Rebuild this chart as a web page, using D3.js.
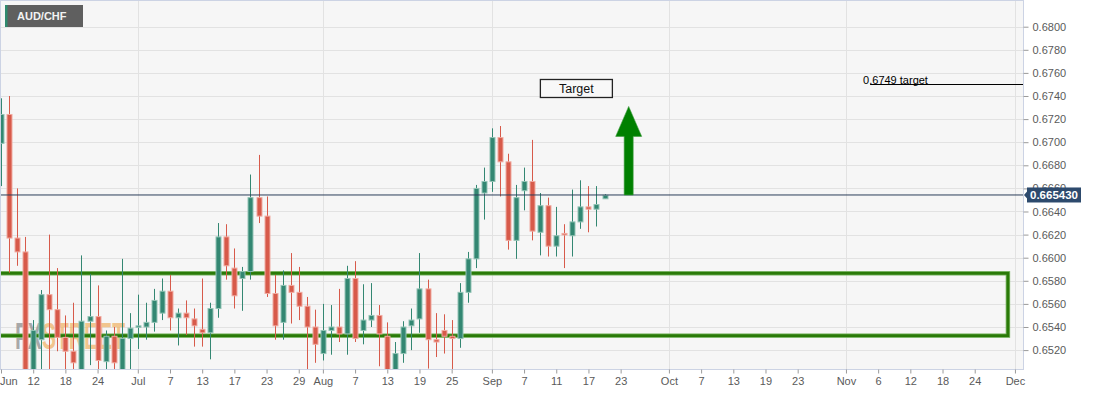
<!DOCTYPE html>
<html>
<head>
<meta charset="utf-8">
<script src="https://cdn.jsdelivr.net/npm/d3@7"></script>
<style>
  body { margin: 0; background: #fff; }
  svg { display: block; font-family: "Liberation Sans", Arial, sans-serif; }
</style>
</head>
<body>
<svg width="1094" height="395"></svg>
<script>
// daily AUD/CHF candles
let dates = [
  '2020-06-08', '2020-06-09', '2020-06-10', '2020-06-11', '2020-06-12',
  '2020-06-15', '2020-06-16', '2020-06-17', '2020-06-18', '2020-06-19',
  '2020-06-22', '2020-06-23', '2020-06-24', '2020-06-25', '2020-06-26',
  '2020-06-29', '2020-06-30', '2020-07-01', '2020-07-02', '2020-07-03',
  '2020-07-06', '2020-07-07', '2020-07-08', '2020-07-09', '2020-07-10',
  '2020-07-13', '2020-07-14', '2020-07-15', '2020-07-16', '2020-07-17',
  '2020-07-20', '2020-07-21', '2020-07-22', '2020-07-23', '2020-07-24',
  '2020-07-27', '2020-07-28', '2020-07-29', '2020-07-30', '2020-07-31',
  '2020-08-03', '2020-08-04', '2020-08-05', '2020-08-06', '2020-08-07',
  '2020-08-10', '2020-08-11', '2020-08-12', '2020-08-13', '2020-08-14',
  '2020-08-17', '2020-08-18', '2020-08-19', '2020-08-20', '2020-08-21',
  '2020-08-24', '2020-08-25', '2020-08-26', '2020-08-27', '2020-08-28',
  '2020-08-31', '2020-09-01', '2020-09-02', '2020-09-03', '2020-09-04',
  '2020-09-07', '2020-09-08', '2020-09-09', '2020-09-10', '2020-09-11',
  '2020-09-14', '2020-09-15', '2020-09-16', '2020-09-17', '2020-09-18',
  '2020-09-21',
];
let open = [
  0.6699, 0.6724, 0.6617, 0.6605, 0.6488,
  0.6529, 0.6568, 0.6555, 0.6531, 0.6519,
  0.6498, 0.6545, 0.6549, 0.6510, 0.6532,
  0.6495, 0.6530, 0.6540, 0.6540, 0.6544,
  0.6552, 0.6571, 0.6548, 0.6552, 0.6547,
  0.6538, 0.6535, 0.6556, 0.6618, 0.6591,
  0.6582, 0.6588, 0.6652, 0.6636, 0.6569,
  0.6544, 0.6576, 0.6570, 0.6558, 0.6540,
  0.6517, 0.6537, 0.6540, 0.6534, 0.6582,
  0.6537, 0.6546, 0.6550, 0.6532, 0.6499,
  0.6517, 0.6541, 0.6547, 0.6573, 0.6529,
  0.6537, 0.6532, 0.6530, 0.6570, 0.6599,
  0.6656, 0.6666, 0.6704, 0.6683, 0.6615,
  0.6658, 0.6666, 0.6622, 0.6645, 0.6610,
  0.6621, 0.6619, 0.6631, 0.6644, 0.6642,
  0.6651,
];
let high = [
  0.6738, 0.6740, 0.6660, 0.6618, 0.6546,
  0.6572, 0.6620, 0.6591, 0.6550, 0.6561,
  0.6602, 0.6586, 0.6576, 0.6537, 0.6540,
  0.6599, 0.6552, 0.6568, 0.6561, 0.6573,
  0.6582, 0.6585, 0.6556, 0.6563, 0.6556,
  0.6582, 0.6561, 0.6630, 0.6629, 0.6608,
  0.6592, 0.6672, 0.6689, 0.6653, 0.6585,
  0.6589, 0.6604, 0.6592, 0.6566, 0.6555,
  0.6560, 0.6559, 0.6573, 0.6593, 0.6597,
  0.6577, 0.6578, 0.6559, 0.6544, 0.6527,
  0.6545, 0.6556, 0.6604, 0.6581, 0.6552,
  0.6551, 0.6546, 0.6578, 0.6605, 0.6663,
  0.6678, 0.6712, 0.6714, 0.6690, 0.6663,
  0.6678, 0.6702, 0.6656, 0.6652, 0.6644,
  0.6629, 0.6659, 0.6667, 0.6662, 0.6662,
  0.6655,
];
let low = [
  0.6662, 0.6587, 0.6593, 0.6470, 0.6475,
  0.6495, 0.6500, 0.6519, 0.6498, 0.6495,
  0.6490, 0.6507, 0.6498, 0.6497, 0.6498,
  0.6490, 0.6495, 0.6521, 0.6529, 0.6536,
  0.6546, 0.6537, 0.6524, 0.6533, 0.6523,
  0.6523, 0.6512, 0.6548, 0.6581, 0.6556,
  0.6554, 0.6581, 0.6630, 0.6566, 0.6529,
  0.6529, 0.6543, 0.6546, 0.6500, 0.6509,
  0.6511, 0.6516, 0.6527, 0.6516, 0.6527,
  0.6525, 0.6540, 0.6506, 0.6492, 0.6495,
  0.6509, 0.6520, 0.6535, 0.6504, 0.6514,
  0.6517, 0.6500, 0.6522, 0.6561, 0.6591,
  0.6633, 0.6657, 0.6653, 0.6607, 0.6599,
  0.6641, 0.6615, 0.6602, 0.6601, 0.6601,
  0.6591, 0.6601, 0.6625, 0.6622, 0.6627,
  0.6651,
];
let close = [
  0.6724, 0.6617, 0.6605, 0.6488, 0.6537,
  0.6568, 0.6555, 0.6531, 0.6519, 0.6509,
  0.6545, 0.6549, 0.6511, 0.6532, 0.6509,
  0.6530, 0.6539, 0.6541, 0.6544, 0.6563,
  0.6571, 0.6548, 0.6552, 0.6548, 0.6541,
  0.6535, 0.6556, 0.6618, 0.6593, 0.6567,
  0.6588, 0.6652, 0.6636, 0.6569, 0.6541,
  0.6576, 0.6570, 0.6558, 0.6540, 0.6525,
  0.6537, 0.6540, 0.6534, 0.6582, 0.6530,
  0.6546, 0.6550, 0.6534, 0.6499, 0.6517,
  0.6540, 0.6546, 0.6573, 0.6529, 0.6527,
  0.6532, 0.6530, 0.6570, 0.6599, 0.6660,
  0.6666, 0.6704, 0.6683, 0.6615, 0.6652,
  0.6666, 0.6623, 0.6645, 0.6610, 0.6619,
  0.6620, 0.6631, 0.6644, 0.6642, 0.6646,
  0.6654,
];

let tickDates = [
  '2020-06-08', '2020-06-12', '2020-06-18', '2020-06-24', '2020-07-01',
  '2020-07-07', '2020-07-13', '2020-07-17', '2020-07-23', '2020-07-29',
  '2020-08-03', '2020-08-07', '2020-08-13', '2020-08-19', '2020-08-25',
  '2020-09-01', '2020-09-07', '2020-09-11', '2020-09-17', '2020-09-23',
  '2020-10-01', '2020-10-07', '2020-10-13', '2020-10-19', '2020-10-23',
  '2020-11-02', '2020-11-06', '2020-11-12', '2020-11-18', '2020-11-24',
  '2020-12-01',
];
let tickLabels = [
  'Jun', '12', '18', '24', 'Jul', '7', '13', '17', '23', '29',
  'Aug', '7', '13', '19', '25', 'Sep', '7', '11', '17', '23',
  'Oct', '7', '13', '19', '23', 'Nov', '6', '12', '18', '24', 'Dec',
];
let monthLabels = ['Jun', 'Jul', 'Aug', 'Sep', 'Oct', 'Nov', 'Dec'];

let priceTicks = [
  0.652, 0.654, 0.656, 0.658, 0.660, 0.662, 0.664, 0.666,
  0.668, 0.670, 0.672, 0.674, 0.676, 0.678, 0.680,
];

let lastPrice = 0.66543;
let lastPriceLabel = '0.665430';
let zoneTop = 0.65865;
let zoneBottom = 0.65325;
let zoneEnd = '2020-11-30';
let targetLevel = 0.675;
let targetLabel = '0.6749 target';
let targetStart = '2020-11-05';
let arrowDate = '2020-09-24';
let arrowTop = 0.6731;
let targetBoxDate = '2020-09-15';
let targetBoxLevel = 0.67465;

let svgWidth = 1094;
let svgHeight = 395;
let plotLeft = 0.5;
let plotRight = 1023.5;
let plotTop = 0.5;
let plotBottom = 369.5;

let green = '#338772';
let greenEdge = '#93c3b5';
let red = '#d75a4a';
let redEdge = '#f0aaa0';

let fmt = d3.timeFormat('%Y-%m-%d');
let tradingDays = d3.timeDay
  .range(new Date(2020, 5, 8), new Date(2020, 11, 5))
  .filter((d) => d.getDay() !== 0 && d.getDay() !== 6)
  .map(fmt);
let dayIndex = (s) => tradingDays.indexOf(s);

let xScale = d3.scaleLinear().domain([0, 127]).range([1, 1023]);
let yScale = d3.scaleLinear().domain([0.65032, 0.682225]).range([plotBottom, 1]);

let svg = d3.select('svg');

svg.append('clipPath')
  .attr('id', 'clip')
  .append('rect')
  .attr('x', plotLeft)
  .attr('y', plotTop)
  .attr('width', plotRight - plotLeft)
  .attr('height', plotBottom - plotTop);

svg.append('rect')
  .attr('x', plotLeft)
  .attr('y', plotTop)
  .attr('width', plotRight - plotLeft)
  .attr('height', plotBottom - plotTop)
  .attr('fill', '#f6f6f6');

// grid
svg.append('g')
  .selectAll('line')
  .data(priceTicks)
  .enter()
  .append('line')
  .attr('x1', plotLeft)
  .attr('x2', plotRight)
  .attr('y1', (d) => Math.round(yScale(d)) + 0.5)
  .attr('y2', (d) => Math.round(yScale(d)) + 0.5)
  .attr('stroke', '#e2e2e2');

let monthTicks = tickDates.filter((d, i) => monthLabels.includes(tickLabels[i]) && i > 0);
svg.append('g')
  .selectAll('line')
  .data(monthTicks)
  .enter()
  .append('line')
  .attr('x1', (d) => Math.round(xScale(dayIndex(d))) + 0.5)
  .attr('x2', (d) => Math.round(xScale(dayIndex(d))) + 0.5)
  .attr('y1', plotTop)
  .attr('y2', plotBottom)
  .attr('stroke', '#e2e2e2');

let canvas = svg.append('g').attr('clip-path', 'url(#clip)');

// watermark
let mark = canvas.append('text')
  .attr('x', 15)
  .attr('y', 349)
  .attr('font-size', 36)
  .attr('font-weight', 'bold')
  .attr('textLength', 110)
  .attr('lengthAdjust', 'spacingAndGlyphs');
mark.append('tspan').text('FX').attr('fill', '#8e8e8e').attr('fill-opacity', 0.75);
mark.append('tspan').text('STREET').attr('fill', '#f0b060').attr('fill-opacity', 0.7);

// support zone
canvas.append('rect')
  .attr('x', plotLeft - 5)
  .attr('y', yScale(zoneTop))
  .attr('width', xScale(dayIndex(zoneEnd)) + 1 - plotLeft + 5)
  .attr('height', yScale(zoneBottom) - yScale(zoneTop))
  .attr('fill', 'none')
  .attr('stroke', '#7fb86a')
  .attr('stroke-width', 4.5);
canvas.append('rect')
  .attr('x', plotLeft - 5)
  .attr('y', yScale(zoneTop))
  .attr('width', xScale(dayIndex(zoneEnd)) + 1 - plotLeft + 5)
  .attr('height', yScale(zoneBottom) - yScale(zoneTop))
  .attr('fill', 'none')
  .attr('stroke', '#2a7a08')
  .attr('stroke-width', 2.8);

// candles
let candles = dates.map((d, i) => ({ date: d, o: open[i], h: high[i], l: low[i], c: close[i] }));

let bars = canvas.selectAll('g.candle')
  .data(candles)
  .enter()
  .append('g')
  .attr('class', 'candle');

bars.append('line')
  .attr('x1', (d) => Math.round(xScale(dayIndex(d.date))) + 0.5)
  .attr('x2', (d) => Math.round(xScale(dayIndex(d.date))) + 0.5)
  .attr('y1', (d) => yScale(d.h))
  .attr('y2', (d) => yScale(d.l))
  .attr('stroke', (d) => (d.c >= d.o ? green : red));

bars.append('rect')
  .attr('x', (d) => Math.round(xScale(dayIndex(d.date))) - 2)
  .attr('y', (d) => yScale(Math.max(d.o, d.c)))
  .attr('width', 5)
  .attr('height', (d) => Math.max(1.5, yScale(Math.min(d.o, d.c)) - yScale(Math.max(d.o, d.c))))
  .attr('fill', (d) => (d.c >= d.o ? green : red))
  .attr('stroke', (d) => (d.c >= d.o ? greenEdge : redEdge))
  .attr('stroke-width', 1);

// last price line
canvas.append('line')
  .attr('x1', plotLeft)
  .attr('x2', plotRight)
  .attr('y1', yScale(lastPrice))
  .attr('y2', yScale(lastPrice))
  .attr('stroke', '#2b3e5a');

// target line
let targetY = Math.round(yScale(targetLevel)) + 0.5;
let targetX = xScale(dayIndex(targetStart));
canvas.append('line')
  .attr('x1', targetX)
  .attr('x2', plotRight)
  .attr('y1', targetY)
  .attr('y2', targetY)
  .attr('stroke', '#000');
canvas.append('text')
  .attr('x', targetX - 7)
  .attr('y', targetY - 0.5)
  .attr('font-size', 11)
  .attr('fill', '#000')
  .text(targetLabel);

// arrow
let ax = xScale(dayIndex(arrowDate));
let ay0 = yScale(lastPrice);
let ay1 = yScale(arrowTop);
let headLen = 30;
canvas.append('path')
  .attr('d', `M${ax - 4.5},${ay0} L${ax - 4.5},${ay1 + headLen} L${ax - 13},${ay1 + headLen} L${ax},${ay1}
              L${ax + 13},${ay1 + headLen} L${ax + 4.5},${ay1 + headLen} L${ax + 4.5},${ay0} Z`)
  .attr('fill', '#008000')
  .attr('stroke', '#3a9a3a')
  .attr('stroke-width', 0.6);

// target box
let bx = xScale(dayIndex(targetBoxDate) + 0.5);
let by = yScale(targetBoxLevel);
canvas.append('rect')
  .attr('x', bx - 36)
  .attr('y', by - 9)
  .attr('width', 72)
  .attr('height', 18)
  .attr('fill', '#f8f8f8')
  .attr('stroke', '#222')
  .attr('stroke-width', 1.3);
canvas.append('text')
  .attr('x', bx)
  .attr('y', by + 4.5)
  .attr('text-anchor', 'middle')
  .attr('font-size', 12.5)
  .attr('fill', '#111')
  .text('Target');

// plot border
svg.append('rect')
  .attr('x', plotLeft)
  .attr('y', plotTop)
  .attr('width', plotRight - plotLeft)
  .attr('height', plotBottom - plotTop)
  .attr('fill', 'none')
  .attr('stroke', '#ccd3e4');

// axes
let yAxis = d3.axisRight(yScale)
  .tickValues(priceTicks)
  .tickFormat(d3.format('.4f'))
  .tickSize(5)
  .tickPadding(4);
let yAxisG = svg.append('g')
  .attr('transform', `translate(${plotRight},0)`)
  .call(yAxis);
yAxisG.select('.domain').remove();
yAxisG.selectAll('line').attr('stroke', '#9a9a9a');
yAxisG.selectAll('text').attr('fill', '#5a5a5a').attr('font-size', 11).attr('font-family', null);

let xAxis = d3.axisBottom(xScale)
  .tickValues(tickDates.map(dayIndex))
  .tickFormat((d, i) => tickLabels[i])
  .tickSize(4)
  .tickPadding(4);
let xAxisG = svg.append('g')
  .attr('transform', `translate(0,${plotBottom})`)
  .call(xAxis);
xAxisG.select('.domain').remove();
xAxisG.selectAll('line').attr('stroke', '#9a9a9a');
xAxisG.selectAll('text').attr('fill', '#5a5a5a').attr('font-size', 11).attr('font-family', null);
xAxisG.selectAll('text').each(function () {
  let b = this.getBBox();
  let t = d3.select(this.parentNode).attr('transform');
  let tx = +t.match(/translate\(([-\d.]+)/)[1];
  if (tx + b.x < 0) d3.select(this).attr('text-anchor', 'start').attr('x', -tx);
});

// last price tag
let py = yScale(lastPrice);
svg.append('path')
  .attr('d', `M${plotRight + 0.5},${py} L${plotRight + 4},${py - 4} L${plotRight + 4},${py + 4} Z`)
  .attr('fill', '#2d4a6d');
svg.append('rect')
  .attr('x', plotRight + 3.5)
  .attr('y', py - 7.5)
  .attr('width', 54)
  .attr('height', 15)
  .attr('fill', '#2d4a6d');
svg.append('text')
  .attr('x', plotRight + 30.5)
  .attr('y', py + 4)
  .attr('text-anchor', 'middle')
  .attr('font-size', 11.5)
  .attr('font-weight', 'bold')
  .attr('fill', '#fff')
  .text(lastPriceLabel);

// title
svg.append('rect').attr('x', 5).attr('y', 5).attr('width', 78).attr('height', 22).attr('fill', '#5f5f5f');
svg.append('rect').attr('x', 5).attr('y', 5).attr('width', 2.5).attr('height', 22).attr('fill', '#2e8a6e');
svg.append('text')
  .attr('x', 17)
  .attr('y', 20)
  .attr('font-size', 11)
  .attr('font-weight', 'bold')
  .attr('fill', '#f2f2f2')
  .text('AUD/CHF');
</script>
</body>
</html>
